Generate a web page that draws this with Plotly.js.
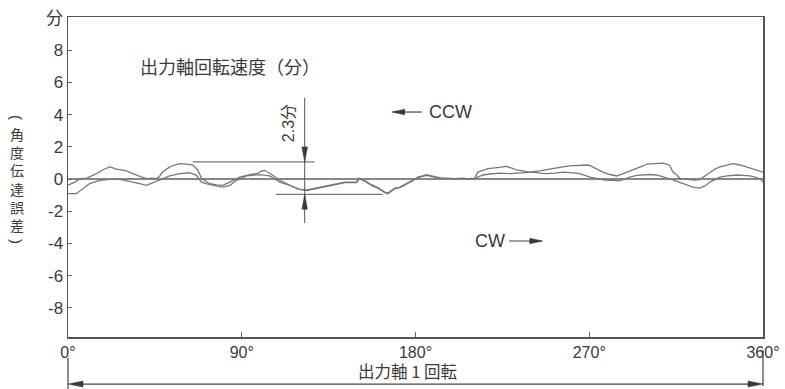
<!DOCTYPE html>
<html><head><meta charset="utf-8">
<script src="https://cdn.plot.ly/plotly-3.0.1.min.js"></script>
<style>html,body{margin:0;padding:0;background:#fff;} #chart{width:785px;height:389px;}</style>
</head><body><div id="chart"></div>
<script>
// output shaft angle (deg) and angular transmission error (arcmin)
const angleA = [0,3.5,6.1,9.7,12.8,15.4,17.9,21.6,25.2,27.8,30.4,33.0,35.6,38.2,40.8,43.4,45.9,47.5,49.0,51.1,52.7,55.3,57.9,61.5,64.6,67.2,69.3,71.3,73.4,77.0,80.2,82.7,85.3,89.0,92.6,95.2,97.8,100.4,101.9,104.5,106.1,109.7,112.3,114.9,118.5,121.6,123.7,126.3,128.9,131.5,134.6,137.2,140.8,143.4,146.0,148.6,149.6,150.6,153.7,157.4,160.5,164.1,165.7,169.3,171.9,173.9,176.0,178.6,181.2,183.3,185.9,188.4,191.0,193.6,196.7,200.4,204.0,207.1,210.7,212.3,214.9,217.5,220.1,223.7,227.3,229.9,232.5,235.6,239.2,244.4,248.0,252.2,256.3,259.9,265.1,268.7,270.3,273.9,277.0,280.7,284.3,286.9,289.5,292.6,294.6,297.8,299.8,302.9,306.6,308.1,310.2,311.8,313.3,315.4,317.0,320.6,322.1,324.7,327.3,329.9,332.5,335.1,337.7,341.4,344.5,348.1,351.7,354.3,356.9,360];
const errorA = [-0.38,-0.19,0.02,0.06,0.23,0.37,0.56,0.75,0.62,0.56,0.50,0.37,0.23,0.12,0.02,0.06,0.02,0.19,0.43,0.62,0.75,0.87,0.95,0.93,0.87,0.56,0.02,-0.12,-0.29,-0.37,-0.39,-0.25,-0.08,0.12,0.23,0.31,0.33,0.50,0.54,0.37,0.23,-0.08,-0.25,-0.39,-0.60,-0.68,-0.68,-0.62,-0.56,-0.50,-0.40,-0.37,-0.28,-0.19,-0.19,-0.16,-0.19,0.06,-0.09,-0.37,-0.53,-0.81,-0.87,-0.56,-0.50,-0.37,-0.25,-0.06,0.12,0.19,0.27,0.19,0.12,0.06,0.06,0.03,0.06,0.03,0.06,0.43,0.53,0.64,0.68,0.75,0.78,0.68,0.56,0.50,0.43,0.50,0.59,0.68,0.75,0.81,0.87,0.87,0.84,0.62,0.43,0.28,0.19,0.31,0.43,0.56,0.64,0.81,0.93,0.96,0.96,0.99,0.93,0.81,0.43,0.25,0.03,-0.03,-0.06,-0.06,-0.03,0.19,0.43,0.62,0.75,0.87,0.95,0.87,0.75,0.65,0.56,0.43];
const angleB = [0,4.4,7.6,11.2,16.4,21.6,26.8,32.0,37.1,40.6,43.9,47.5,52.7,57.9,63.1,66.5,69.1,73.4,80.2,83.8,87.3,92.4,99.3,104.5,109.7,114.9,120.1,123.7,126.3,128.9,131.5,134.6,137.2,140.8,143.4,146.0,148.6,149.6,150.6,153.7,157.4,160.5,164.1,165.7,169.3,171.9,173.9,176.0,178.6,181.2,183.3,185.9,188.4,191.0,193.6,196.7,200.4,204.0,207.1,210.7,212.3,214.9,218.5,223.7,228.9,232.5,236.6,240.8,244.4,248.0,252.2,256.3,259.9,265.1,270.3,273.9,278.0,282.2,285.8,288.4,291.0,294.6,297.8,301.4,305.0,308.1,310.2,313.3,317.0,320.6,323.7,327.3,329.9,332.5,335.1,337.7,341.4,346.6,349.7,353.3,355.9,358.5,360];
const errorB = [-0.91,-0.91,-0.60,-0.29,-0.08,-0.02,-0.02,-0.14,-0.29,-0.39,-0.23,-0.02,0.19,0.33,0.39,0.23,-0.19,-0.35,-0.50,-0.39,-0.08,0.19,0.27,0.19,-0.19,-0.39,-0.64,-0.72,-0.66,-0.60,-0.54,-0.44,-0.41,-0.32,-0.23,-0.23,-0.20,-0.23,0.02,-0.13,-0.41,-0.57,-0.85,-0.91,-0.60,-0.54,-0.41,-0.29,-0.10,0.08,0.15,0.23,0.15,0.08,0.02,0.02,-0.01,0.02,-0.01,0.02,0.12,0.25,0.31,0.37,0.34,0.37,0.40,0.43,0.37,0.33,0.37,0.43,0.40,0.33,0.12,0.02,-0.06,-0.09,-0.12,0.00,0.12,0.22,0.27,0.28,0.25,0.16,0.06,-0.06,-0.22,-0.37,-0.50,-0.56,-0.43,-0.19,-0.03,0.12,0.19,0.25,0.22,0.19,0.12,0.02,-0.19];

const xTickVals = [0, 90, 180, 270, 360];
const xTickText = ['0°', '90°', '180°', '270°', '360°'];
const yTickVals = [-8, -6, -4, -2, 0, 2, 4, 6, 8, 10];
const yTickText = ['-8', '-6', '-4', '-2', '0', '2', '4', '6', '8', '分'];
const yTitleChars = ['角', '度', '伝', '達', '誤', '差'];

// peak-to-peak span marker (arcmin) and its position (deg)
const spanHigh = 1.06;
const spanLow = -0.95;
const spanAngle = 122.6;
const spanLabel = '2.3分';

const FONT = 'Liberation Sans, Arial, Noto Sans CJK JP, sans-serif';
const CJK = 'Noto Sans CJK JP, sans-serif';
const CURVE = '#787878';
const INK = '#3a3a3a';

const traces = [
  {x: angleA, y: errorA, type: 'scatter', mode: 'lines', line: {color: CURVE, width: 1.3}, hoverinfo: 'skip'},
  {x: angleB, y: errorB, type: 'scatter', mode: 'lines', line: {color: CURVE, width: 1.3}, hoverinfo: 'skip'}
];

function head(xref, yref, xa, ya, path) {
  return {type: 'path', xref: xref, yref: yref, xsizemode: 'pixel', ysizemode: 'pixel',
          xanchor: xa, yanchor: ya, path: path, fillcolor: INK, line: {color: INK, width: 0.5}};
}
function seg(xref, yref, x0, y0, x1, y1, color, w) {
  return {type: 'line', xref: xref, yref: yref, x0: x0, y0: y0, x1: x1, y1: y1, line: {color: color, width: w}};
}

const shapes = [
  seg('x', 'y', 64.6, spanHigh, 127.8, spanHigh, '#777', 1.3),
  seg('x', 'y', 107.6, spanLow, 163.0, spanLow, '#777', 1.3),
  seg('x', 'y', spanAngle, 5.03, spanAngle, -2.73, '#555', 1),
  head('x', 'y', spanAngle, spanHigh, 'M0,0 L-2.8,15 L2.8,15 Z'),
  head('x', 'y', spanAngle, spanLow, 'M0,0 L-2.8,-15 L2.8,-15 Z'),
  // CCW arrow
  seg('x', 'y', 168.5, 4.16, 183.3, 4.16, '#444', 1.2),
  head('x', 'y', 167.7, 4.16, 'M0,0 L13,2.8 L13,-2.8 Z'),
  // CW arrow
  seg('x', 'y', 228.4, -3.85, 245.0, -3.85, '#444', 1.2),
  head('x', 'y', 245.9, -3.85, 'M0,0 L-13,2.8 L-13,-2.8 Z'),
  // one revolution arrow below axis
  seg('paper', 'paper', 0.01, -0.147, 0.99, -0.147, '#444', 1.3),
  head('paper', 'paper', 0, -0.147, 'M0,0 L15,3 L15,-3 Z'),
  head('paper', 'paper', 1, -0.147, 'M0,0 L-15,3 L-15,-3 Z'),
  seg('paper', 'paper', 0, -0.066, 0, -0.165, '#444', 1.2),
  seg('paper', 'paper', 1, -0.041, 1, -0.153, '#444', 1.2)
];

const YT_X = (17 - 68) / 695;
const annotations = [
  {xref: 'x', yref: 'y', x: 36, y: 7.0, xanchor: 'left', yanchor: 'middle', showarrow: false,
   text: '出力軸回転速度（分）', font: {family: CJK, size: 18, color: INK}},
  {xref: 'x', yref: 'y', x: 185.9, y: 4.16, xanchor: 'left', yanchor: 'middle', showarrow: false,
   text: 'CCW', font: {family: FONT, size: 18, color: INK}},
  {xref: 'x', yref: 'y', x: 209.7, y: -3.85, xanchor: 'left', yanchor: 'middle', showarrow: false,
   text: 'CW', font: {family: FONT, size: 18, color: INK}},
  {xref: 'x', yref: 'y', x: 114.6, y: 3.48, xanchor: 'center', yanchor: 'middle', showarrow: false,
   textangle: -90, text: spanLabel, font: {family: FONT, size: 16, color: INK}},
  {xref: 'paper', yref: 'paper', x: (407 - 68) / 695, y: (337 - 371) / 320, xanchor: 'center', yanchor: 'middle',
   showarrow: false, text: '出力軸 1 回転', font: {family: CJK, size: 16.5, color: INK}},
  // vertical y-axis title: parentheses rotated, characters stacked upright
  {xref: 'paper', yref: 'paper', x: YT_X, y: (337 - 117) / 320, xanchor: 'center', yanchor: 'middle',
   showarrow: false, textangle: 90, text: '(', font: {family: FONT, size: 15, color: INK}},
  {xref: 'paper', yref: 'paper', x: YT_X, y: (337 - 241) / 320, xanchor: 'center', yanchor: 'middle',
   showarrow: false, textangle: 90, text: ')', font: {family: FONT, size: 15, color: INK}},
  {xref: 'paper', yref: 'paper', x: YT_X, y: (337 - 179) / 320, xanchor: 'center', yanchor: 'middle',
   showarrow: false, text: yTitleChars.join('<br>'), font: {family: CJK, size: 14, color: INK}}
];

const layout = {
  width: 785, height: 389,
  margin: {l: 68, r: 22, t: 17, b: 52, pad: 0},
  paper_bgcolor: '#fff', plot_bgcolor: '#fff',
  showlegend: false,
  font: {family: FONT, color: INK},
  xaxis: {range: [0, 360], tickvals: xTickVals, ticktext: xTickText, showgrid: false, zeroline: false,
          showline: true, mirror: true, linecolor: '#555', linewidth: 1.5,
          ticks: 'inside', ticklen: 5, tickcolor: '#666', tickwidth: 1,
          tickfont: {family: FONT, size: 16, color: INK}},
  yaxis: {range: [-9.81, 10.06], tickvals: yTickVals, ticktext: yTickText, showgrid: false,
          zeroline: true, zerolinecolor: '#888', zerolinewidth: 1.2,
          showline: true, mirror: true, linecolor: '#555', linewidth: 1.5,
          ticks: 'inside', ticklen: 4, tickcolor: '#666', tickwidth: 1,
          tickfont: {family: FONT, size: 17, color: INK}},
  shapes: shapes,
  annotations: annotations
};

Plotly.newPlot('chart', traces, layout, {staticPlot: true, displayModeBar: false});
</script>
</body></html>
